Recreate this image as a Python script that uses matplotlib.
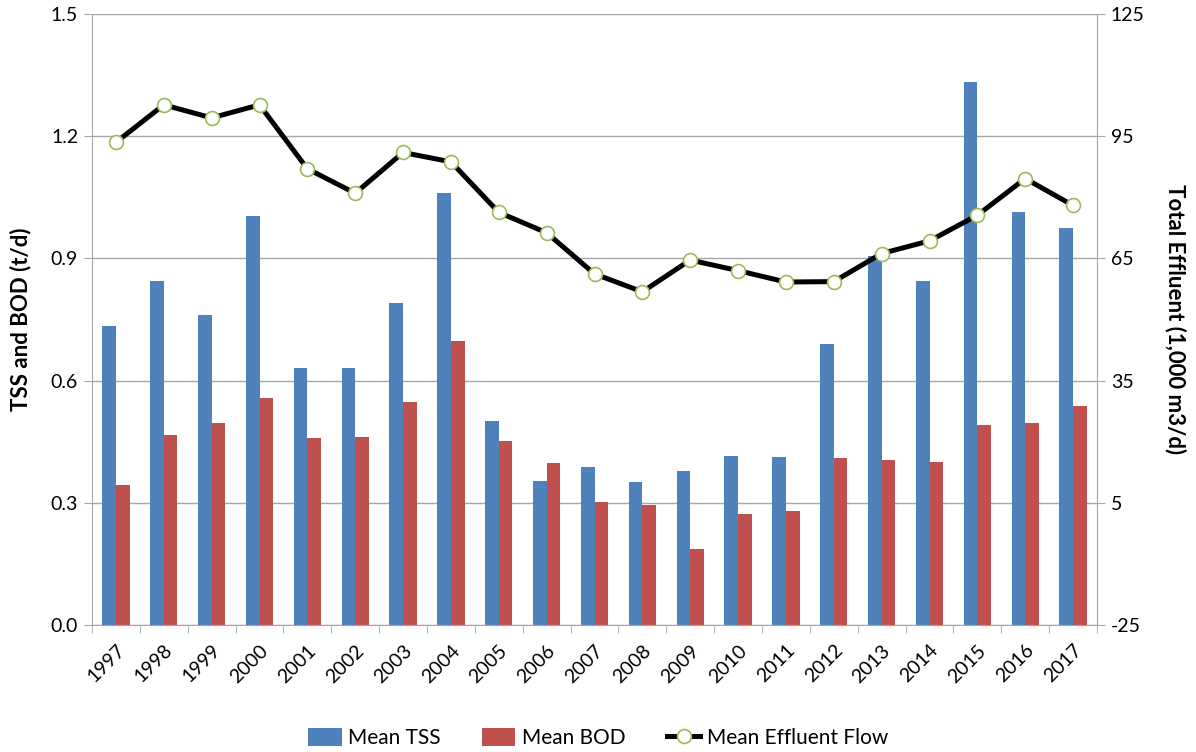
import matplotlib.pyplot as plt
import numpy as np

years = [str(y) for y in range(1997, 2018)]
tss = [0.734, 0.845, 0.761, 1.004, 0.631, 0.631, 0.791, 1.060, 0.501, 0.354, 0.388,
       0.351, 0.378, 0.415, 0.412, 0.690, 0.905, 0.845, 1.332, 1.014, 0.975]
bod = [0.344, 0.466, 0.496, 0.557, 0.459, 0.462, 0.548, 0.698, 0.452, 0.398, 0.302,
       0.295, 0.187, 0.273, 0.280, 0.410, 0.405, 0.400, 0.491, 0.496, 0.538]
flow = [93.5, 102.7, 99.5, 102.7, 87.0, 81.0, 91.0, 88.7, 76.3, 71.3, 61.2,
        56.8, 64.6, 62.0, 59.2, 59.3, 66.2, 69.3, 75.6, 84.6, 78.0]

plt.rcParams['font.family'] = ['Lato', 'DejaVu Sans']
plt.rcParams['axes.unicode_minus'] = False
grid_col = '#A6A6A6'

fig = plt.figure(figsize=(11.96, 7.52), dpi=100)
ax = fig.add_axes([92 / 1196, 1 - 625 / 752, 1005 / 1196, 611 / 752])
ax2 = ax.twinx()

x = np.arange(len(years))
w = 0.2857
ax.bar(x - w / 2, tss, w, color='#4F81BD', label='Mean TSS', zorder=2)
ax.bar(x + w / 2, bod, w, color='#C0504D', label='Mean BOD', zorder=2)
ax2.plot(x, flow, color='black', lw=3.6, marker='o', ms=10, mfc='white',
         mec='#9BBB59', mew=1.2, label='Mean Effluent Flow', zorder=3)

ax.set_xlim(-0.5, len(years) - 0.5)
ax.set_ylim(0, 1.5)
ax.set_yticks(np.arange(0, 1.51, 0.3))
ax.set_yticklabels([f'{v:.1f}' for v in np.arange(0, 1.51, 0.3)])
ax2.set_ylim(-25, 125)
ax2.set_yticks(np.arange(-25, 126, 30))

ax.set_xticks(x)
ax.set_xticklabels(years, rotation=45, ha='right', rotation_mode='anchor')
ax.set_xticks(np.arange(-0.5, len(years)), minor=True)
ax.tick_params(axis='x', which='major', length=0, pad=12, labelsize=14)
ax.tick_params(axis='x', which='minor', length=6, color=grid_col)
ax.tick_params(axis='y', length=6, color=grid_col, labelsize=14, pad=4)
ax2.tick_params(axis='y', length=6, color=grid_col, labelsize=14, pad=4)

ax.grid(axis='y', color=grid_col, lw=1, zorder=0)
ax.set_axisbelow(True)
for a in (ax, ax2):
    a.spines['top'].set_visible(False)
    for s in ('left', 'right', 'bottom'):
        a.spines[s].set_color(grid_col)
ax.spines['right'].set_visible(False)
ax2.spines['left'].set_visible(False)
ax2.spines['bottom'].set_visible(False)

ax.set_ylabel('TSS and BOD (t/d)', fontsize=16, fontweight='bold', labelpad=14)
ax2.set_ylabel('Total Effluent (1,000 m3/d)', fontsize=16, fontweight='bold',
               rotation=270, labelpad=30)

h1, l1 = ax.get_legend_handles_labels()
h2, l2 = ax2.get_legend_handles_labels()
fig.legend(h1 + h2, l1 + l2, loc='lower center', bbox_to_anchor=(0.5, -0.02),
           ncol=3, frameon=False, fontsize=15, handlelength=1.6, handleheight=1.0,
           handletextpad=0.3, columnspacing=2.0)

fig.savefig('out.png', dpi=100)
